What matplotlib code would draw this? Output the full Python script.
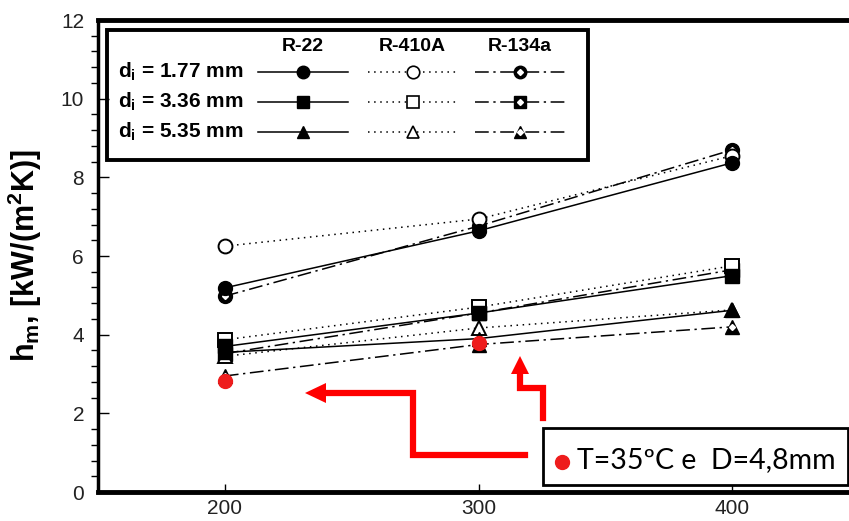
import numpy as np
import matplotlib
matplotlib.use("Agg")
import matplotlib.pyplot as plt
from matplotlib.lines import Line2D
from matplotlib.patches import Rectangle, Polygon
from matplotlib.ticker import MultipleLocator

plt.rcParams['font.family'] = ['Liberation Sans', 'DejaVu Sans']
plt.rcParams['mathtext.fontset'] = 'custom'
plt.rcParams['mathtext.rm'] = 'Liberation Sans:bold'
plt.rcParams['mathtext.it'] = 'Liberation Sans:bold'
plt.rcParams['mathtext.bf'] = 'Liberation Sans:bold'

# mass flux and mean heat transfer coefficient
G = [200, 300, 400]

r22_177 = [5.19, 6.64, 8.37]
r22_336 = [3.70, 4.55, 5.50]
r22_535 = [3.55, 3.90, 4.62]

r410_177 = [6.25, 6.94, 8.55]
r410_336 = [3.87, 4.70, 5.75]
r410_535 = [3.45, 4.17, 4.63]

r134_177 = [4.98, 6.76, 8.70]
r134_336 = [3.52, 4.55, 5.65]
r134_535 = [2.95, 3.75, 4.20]

# own measurements, T=35ºC, D=4,8mm
G_own = [200, 300]
h_own = [2.83, 3.79]

diameters = ['1.77', '3.36', '5.35']
fluids = ['R-22', 'R-410A', 'R-134a']

W, H = 849, 521
fig = plt.figure(figsize=(W / 100, H / 100), dpi=100)
ax = fig.add_axes([98 / W, 29 / H, 751 / W, 472 / H])

markers = ['o', 's', '^']
ms = 10

def draw(x, y, fluid, mk, **kw):
    if fluid == 'R-22':
        ax.plot(x, y, color='black', lw=1.1, ls='-', marker=mk, ms=ms,
                mfc='black', mec='black', **kw)
    elif fluid == 'R-410A':
        ax.plot(x, y, color='black', lw=1.1, ls=(0, (1, 3)), marker=mk, ms=ms,
                mfc='white', mec='black', mew=1.4, **kw)
    else:
        ax.plot(x, y, color='black', lw=1.1, ls=(0, (9, 3, 1.5, 3)), marker=mk,
                ms=ms, mfc='black', mec='black', **kw)
        ax.plot(x, y, ls='none', marker='D', ms=3, mfc='white', mec='white', **kw)

series = {
    'R-22': [r22_177, r22_336, r22_535],
    'R-410A': [r410_177, r410_336, r410_535],
    'R-134a': [r134_177, r134_336, r134_535],
}
for fluid in ['R-134a', 'R-410A', 'R-22']:
    for vals, mk in zip(series[fluid], markers):
        draw(G, vals, fluid, mk)

ax.plot(G_own, h_own, ls='none', marker='o', ms=10, mfc='#ee1c1c',
        mec='#ee1c1c', zorder=5)

ax.set_xlim(150, 446)
ax.set_ylim(0, 12)
ax.set_xticks(G)
ax.set_yticks(np.arange(0, 13, 2))
ax.yaxis.set_minor_locator(MultipleLocator(0.4))
ax.tick_params(axis='both', direction='in', labelsize=15, colors='black')
ax.tick_params(axis='y', which='major', length=8, width=1, pad=10)
ax.tick_params(axis='y', which='minor', length=5, width=1)
ax.tick_params(axis='x', which='major', length=6, width=1, pad=5)
for lab in ax.get_xticklabels() + ax.get_yticklabels():
    lab.set_color('#222222')

ax.spines['right'].set_visible(False)
ax.spines['left'].set_linewidth(2.5)
ax.spines['top'].set_linewidth(3.5)
ax.spines['bottom'].set_linewidth(3.5)

ax.set_ylabel(r'$\mathrm{h_m}$, [kW/(m$^\mathrm{2}$K)]', fontsize=22,
              fontweight='bold')
ax.yaxis.set_label_coords(-0.072, 0.5)

# legend table
ax.add_patch(Rectangle((0.012, 0.703), 0.640, 0.276, transform=ax.transAxes,
                       fill=False, ec='black', lw=2.8, zorder=6))
head_x = [0.273, 0.419, 0.562]
for fx, name in zip(head_x, fluids):
    ax.text(fx, 0.943, name, transform=ax.transAxes, ha='center', va='center',
            fontsize=14, fontweight='bold', zorder=7)
row_y = [0.890, 0.826, 0.763]
seg_x = [(0.213, 0.333), (0.3595, 0.479), (0.502, 0.622)]
styles = ['-', (0, (1, 3)), (0, (9, 3, 1.5, 3))]
for ry, d, mk in zip(row_y, diameters, markers):
    ax.text(0.0266, ry, r'$\mathrm{d_i}$ = ' + d + ' mm', transform=ax.transAxes,
            ha='left', va='center', fontsize=15, fontweight='bold', zorder=7)
    for (x0, x1), fx, ls, fluid in zip(seg_x, head_x, styles, fluids):
        ax.add_line(Line2D([x0, x1], [ry, ry], transform=ax.transAxes,
                           color='black', lw=1.1, ls=ls, zorder=7))
        if fluid == 'R-410A':
            ax.add_line(Line2D([fx], [ry], transform=ax.transAxes, marker=mk,
                               ms=ms - 1, mfc='white', mec='black', mew=1.2, zorder=8))
        else:
            ax.add_line(Line2D([fx], [ry], transform=ax.transAxes, marker=mk,
                               ms=ms - 1, mfc='black', mec='black', zorder=8))
            if fluid == 'R-134a':
                ax.add_line(Line2D([fx], [ry], transform=ax.transAxes, marker='D',
                                   ms=3, mfc='white', mec='white', zorder=9))

# red callout, in figure pixels
def fx_(px):
    return px / W

def fy_(py):
    return 1 - py / H

red = '#ff0000'
fig.add_artist(Line2D([fx_(525), fx_(413), fx_(413), fx_(322)],
                      [fy_(455), fy_(455), fy_(393), fy_(393)],
                      color=red, lw=4.5, solid_joinstyle='miter'))
fig.add_artist(Line2D([fx_(543), fx_(543), fx_(520), fx_(520)],
                      [fy_(418), fy_(388), fy_(388), fy_(370)],
                      color=red, lw=4.5, solid_joinstyle='miter'))
fig.add_artist(Polygon([(fx_(305), fy_(393)), (fx_(326), fy_(383)),
                        (fx_(326), fy_(403))], closed=True,
                       transform=fig.transFigure, fc=red, ec=red, lw=0))
fig.add_artist(Polygon([(fx_(520), fy_(356)), (fx_(511), fy_(374)),
                        (fx_(529), fy_(374))], closed=True,
                       transform=fig.transFigure, fc=red, ec=red, lw=0))

fig.add_artist(Rectangle((fx_(543), fy_(485)), fx_(848) - fx_(543),
                         fy_(428) - fy_(485), transform=fig.transFigure,
                         fc='white', ec='black', lw=2))
fig.add_artist(Line2D([fx_(562)], [fy_(462)], marker='o', ms=10,
                      mfc='#ee1c1c', mec='#ee1c1c'))
fig.text(fx_(577), fy_(460), 'T=35ºC e  D=4,8mm', fontsize=20.5,
         family=['Lato', 'DejaVu Sans'], ha='left', va='center')

fig.savefig('out.png', dpi=100)
